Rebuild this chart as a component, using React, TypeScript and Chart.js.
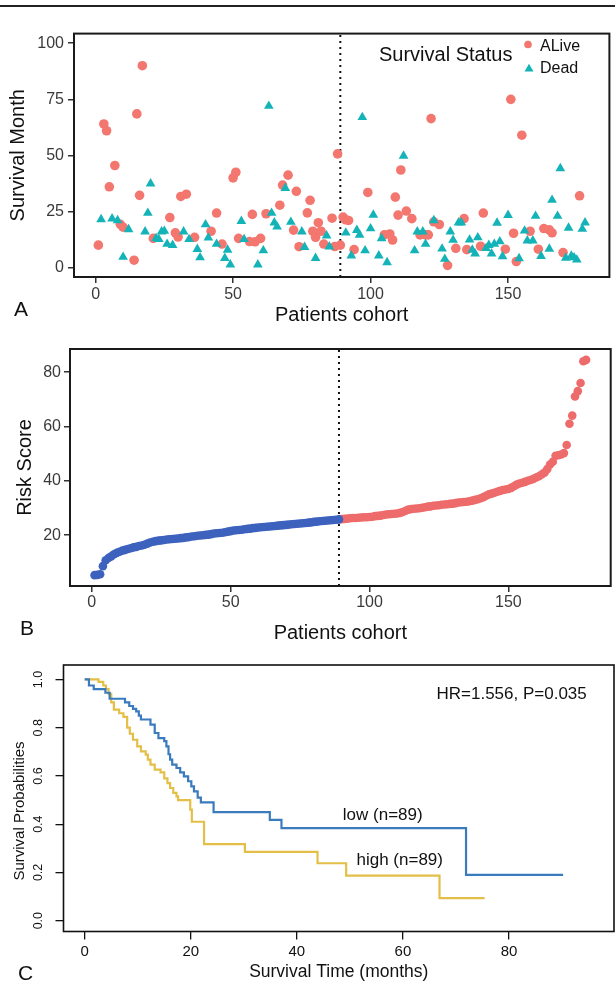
import React, { useEffect, useRef } from 'react';
import { Chart, registerables } from 'chart.js';

Chart.register(...registerables);

const FONT = "'Liberation Sans', Arial, Helvetica, sans-serif";
Chart.defaults.font.family = FONT;

// ---------- Panel A: survival status per patient ----------
const ALIVE_PATIENT = [1, 3, 4, 5, 7, 9, 10, 14, 15, 16, 17, 21, 27, 29, 30, 31, 33, 36, 42, 44, 46, 50, 51, 52, 56, 57, 58, 60, 62, 67, 68, 70, 72, 73, 74, 77, 78, 79, 80, 81, 82, 83, 86, 87, 88, 89, 90, 91, 92, 94, 99, 105, 107, 108, 109, 110, 111, 113, 115, 118, 120, 121, 122, 123, 125, 128, 131, 134, 135, 140, 141, 149, 151, 152, 153, 155, 158, 161, 163, 165, 166, 170, 176];
const ALIVE_MONTH = [10, 64, 61, 36, 45.5, 19.3, 18, 3.3, 68.5, 32.2, 90, 13, 22.3, 15.5, 13.6, 31.7, 32.7, 13.5, 16.2, 24.3, 10.5, 40, 42.5, 13, 11.6, 23.7, 11.5, 13, 24, 27.8, 36.8, 41.2, 16.7, 34, 9.3, 24.4, 30, 16.2, 13.5, 20, 16.2, 10.5, 22, 9.4, 50.7, 10, 22.5, 21.3, 21, 8, 33.5, 14.6, 15, 12.3, 31.4, 23.4, 43.5, 25.2, 21.8, 14.6, 14.6, 14.6, 66.4, 20.4, 19.2, 1, 8.6, 21.8, 8, 9.5, 24.3, 8.2, 75, 15.3, 2.7, 59, 16.2, 8.2, 17.4, 16.8, 15.5, 6.7, 32];
const DEAD_PATIENT = [2, 6, 8, 10, 12, 18, 19, 20, 22, 23, 24, 25, 26, 28, 32, 34, 37, 38, 40, 41, 44, 47, 48, 49, 53, 54, 59, 61, 63, 64, 65, 66, 69, 71, 75, 76, 80, 84, 85, 91, 93, 95, 96, 97, 98, 100, 101, 103, 104, 106, 112, 116, 117, 119, 120, 123, 126, 127, 129, 130, 132, 133, 136, 137, 138, 139, 142, 143, 144, 145, 146, 147, 148, 150, 154, 156, 157, 159, 160, 162, 165, 166, 168, 169, 171, 172, 173, 174, 175, 177, 178];
const DEAD_MONTH = [21.5, 21.8, 21, 4.7, 17, 16, 24.3, 37.4, 13, 12.6, 16, 16.3, 10.5, 10, 16, 12.6, 8.2, 4.5, 19.2, 13.3, 10.5, 4.2, 7.9, 1.3, 20.7, 12.6, 1.3, 7.6, 72, 24.3, 20, 18.2, 35.4, 20.3, 16, 9.1, 4.2, 14.2, 9.3, 15.5, 5.3, 16.7, 14.6, 67, 7.6, 17.4, 23.5, 5.3, 13, 2.3, 49.8, 7.6, 16, 16, 10.5, 21, 8.4, 3.8, 16, 12.3, 20, 20, 12.4, 7.9, 6.2, 13.4, 8.6, 10, 6.2, 10.5, 19.9, 11.6, 5, 23.4, 4.1, 16.4, 12, 12, 23, 5.1, 8.3, 30.1, 23, 44.2, 4.3, 17.7, 5.2, 4.5, 3.5, 17.2, 20];
const A_Y_TICKS = [0, 25, 50, 75, 100];
const COHORT_TICKS = [0, 50, 100, 150];
const CUTOFF = 89;
const COHORT_MIN = -7.85;
const COHORT_MAX = 186.85;
const A_Y_MIN = -4.2;
const A_Y_MAX = 104.3;

// ---------- Panel B: sorted risk scores ----------
const RISK_SCORE = [
  5.3, 5.4, 5.6, 8.6, 10.8, 11.6, 12.2, 13.0, 13.5, 13.9,
  14.3, 14.6, 14.9, 15.2, 15.5, 15.7, 16.0, 16.2, 16.5, 16.9,
  17.3, 17.6, 17.8, 18.0, 18.1, 18.2, 18.4, 18.5, 18.6, 18.7,
  18.8, 18.9, 19.0, 19.2, 19.3, 19.5, 19.6, 19.8, 19.9, 20.0,
  20.1, 20.2, 20.4, 20.6, 20.7, 20.8, 20.9, 21.1, 21.3, 21.5,
  21.7, 21.8, 21.9, 22.0, 22.2, 22.3, 22.4, 22.6, 22.7, 22.8,
  22.9, 23.0, 23.1, 23.2, 23.3, 23.4, 23.5, 23.6, 23.7, 23.8,
  23.9, 24.0, 24.1, 24.2, 24.3, 24.4, 24.5, 24.6, 24.7, 24.9,
  25.0, 25.1, 25.2, 25.3, 25.4, 25.5, 25.6, 25.7, 25.8,
  25.9, 26.0, 26.1, 26.2, 26.3, 26.3, 26.4, 26.5, 26.6, 26.6,
  26.7, 26.8, 27.0, 27.1, 27.2, 27.4, 27.6, 27.7, 27.8, 27.9,
  28.0, 28.2, 28.5, 29.0, 29.4, 29.6, 29.7, 29.8, 29.9, 30.1,
  30.3, 30.5, 30.6, 30.8, 30.9, 31.0, 31.2, 31.3, 31.4, 31.5,
  31.6, 31.8, 32.0, 32.1, 32.2, 32.3, 32.5, 32.7, 33.0, 33.2,
  33.6, 34.0, 34.5, 35.0, 35.3, 35.6, 36.0, 36.3, 36.6, 36.8,
  37.0, 37.4, 38.0, 38.6, 39.0, 39.3, 39.6, 40.0, 40.3, 40.7,
  41.2, 41.7, 42.3, 43.0, 44.3, 46.0, 47.0, 49.2, 49.4, 49.7,
  50.2, 53.2, 61.0, 64.0, 71.0, 73.0, 76.0, 84.0, 84.5,
];
const B_Y_TICKS = [20, 40, 60, 80];
const B_Y_MIN = 1.3;
const B_Y_MAX = 88.5;

// ---------- Panel C: Kaplan-Meier ----------
const LOW_TIME = [0, 0.8, 1.7, 3.9, 4.7, 7.6, 8.4, 9.1, 9.7, 10.2, 10.6, 12.4, 13.2, 13.9, 15.0, 15.4, 15.8, 16.1, 16.5, 17.3, 18.0, 18.7, 19.5, 20.1, 20.6, 21.3, 21.9, 24.3, 34.9, 37.1, 71.9, 90.2];
const LOW_SURV = [1.0, 0.975, 0.96, 0.945, 0.92, 0.905, 0.89, 0.878, 0.868, 0.85, 0.834, 0.813, 0.778, 0.757, 0.744, 0.723, 0.69, 0.668, 0.647, 0.633, 0.615, 0.598, 0.578, 0.557, 0.536, 0.51, 0.49, 0.45, 0.418, 0.384, 0.19, 0.19];
const HIGH_TIME = [0, 2.6, 3.5, 4.0, 4.5, 5.0, 5.5, 6.5, 7.3, 8.0, 8.5, 9.1, 9.9, 10.6, 11.5, 11.9, 12.4, 13.2, 14.3, 15.0, 15.6, 16.1, 16.7, 17.3, 17.6, 19.9, 20.2, 22.5, 30.2, 43.9, 49.3, 66.9, 75.4];
const HIGH_SURV = [1.0, 0.99, 0.975, 0.96, 0.94, 0.905, 0.875, 0.86, 0.845, 0.8, 0.775, 0.75, 0.723, 0.702, 0.688, 0.668, 0.647, 0.626, 0.615, 0.59, 0.57, 0.55, 0.53, 0.515, 0.5, 0.46, 0.41, 0.317, 0.285, 0.238, 0.187, 0.093, 0.093];
const C_X_TICKS = [0, 20, 40, 60, 80];
const C_Y_TICKS = [0, 0.2, 0.4, 0.6, 0.8, 1.0];
const C_X_MIN = -4;
const C_X_MAX = 99.8;
const C_Y_MIN = -0.045;
const C_Y_MAX = 1.06;
const HR_TEXT = 'HR=1.556, P=0.035';
const LOW_LABEL = 'low (n=89)';
const HIGH_LABEL = 'high (n=89)';

// ---------- colours ----------
const COLOR_ALIVE = '#F3766F';
const COLOR_DEAD = '#14B3B8';
const COLOR_LOW_RISK = '#3D62BE';
const COLOR_HIGH_RISK = '#EE6B6B';
const COLOR_KM_LOW = '#3A7BBE';
const COLOR_KM_HIGH = '#E4BF47';

const fixedTicks = (values: number[]) => (scale: any) => {
  scale.ticks = values.map((v) => ({ value: v }));
};

const framePlugin = (lw: number, color: string) => ({
  id: 'frame',
  afterDatasetsDraw(chart: any) {
    const { ctx, chartArea: a } = chart;
    ctx.save();
    ctx.strokeStyle = color;
    ctx.lineWidth = lw;
    ctx.strokeRect(a.left, a.top, a.right - a.left, a.bottom - a.top);
    ctx.restore();
  },
});

function ggScales(p: any) {
  const grid = { display: true, drawOnChartArea: false, drawTicks: true, tickLength: 6, color: '#333', lineWidth: 1.5 };
  return {
    x: {
      type: 'linear',
      min: p.xMin,
      max: p.xMax,
      afterBuildTicks: fixedTicks(p.xTicks),
      afterFit: (s: any) => { s.height = p.xHeight; },
      grid,
      border: { display: false },
      ticks: { color: '#3a3a3a', font: { size: 16 }, padding: p.xTickPad, maxRotation: 0, autoSkip: false },
      title: { display: true, text: p.xTitle, color: '#111', font: { size: 20 }, padding: { top: 0, bottom: p.xTitlePad } },
    },
    y: {
      type: 'linear',
      min: p.yMin,
      max: p.yMax,
      afterBuildTicks: fixedTicks(p.yTicks),
      afterFit: (s: any) => { s.width = p.yWidth; },
      grid,
      border: { display: false },
      ticks: { color: '#3a3a3a', font: { size: 16 }, padding: p.yTickPad, autoSkip: false },
      title: { display: true, text: p.yTitle, color: '#111', font: { size: 20 }, padding: { top: p.yTitlePad, bottom: 0 } },
    },
  };
}

const cutoffLine = (yMin: number, yMax: number) => ({
  type: 'line',
  label: 'cutoff',
  data: [{ x: CUTOFF, y: yMin }, { x: CUTOFF, y: yMax }],
  borderColor: '#111',
  borderWidth: 2,
  borderDash: [2, 4],
  pointRadius: 0,
  showLine: true,
  order: 10,
});

const legendA = {
  id: 'legendA',
  afterDraw(chart: any) {
    const { ctx } = chart;
    ctx.save();
    ctx.textBaseline = 'middle';
    ctx.textAlign = 'left';
    ctx.fillStyle = '#111';
    ctx.font = `20px ${FONT}`;
    ctx.fillText('Survival Status', 379, 35);
    ctx.fillStyle = COLOR_ALIVE;
    ctx.beginPath();
    ctx.arc(528, 24.5, 3.8, 0, Math.PI * 2);
    ctx.fill();
    ctx.fillStyle = COLOR_DEAD;
    ctx.beginPath();
    ctx.moveTo(529, 43.8);
    ctx.lineTo(533.5, 51.5);
    ctx.lineTo(524.5, 51.5);
    ctx.closePath();
    ctx.fill();
    ctx.fillStyle = '#111';
    ctx.font = `16px ${FONT}`;
    ctx.fillText('ALive', 540, 26.5);
    ctx.fillText('Dead', 540, 48.5);
    ctx.restore();
  },
};

function buildA() {
  return {
    type: 'scatter',
    data: {
      datasets: [
        {
          label: 'Dead',
          data: DEAD_PATIENT.map((x, i) => ({ x, y: DEAD_MONTH[i] })),
          pointStyle: 'triangle',
          pointRadius: 5.6,
          backgroundColor: COLOR_DEAD,
          borderWidth: 0,
          order: 1,
        },
        {
          label: 'ALive',
          data: ALIVE_PATIENT.map((x, i) => ({ x, y: ALIVE_MONTH[i] })),
          pointStyle: 'circle',
          pointRadius: 4.8,
          backgroundColor: COLOR_ALIVE,
          borderWidth: 0,
          order: 2,
        },
        cutoffLine(A_Y_MIN, A_Y_MAX),
      ],
    },
    options: {
      animation: false,
      responsive: false,
      devicePixelRatio: 1,
      layout: { padding: { top: 10, right: 2, left: 0, bottom: 0 } },
      plugins: { legend: { display: false }, tooltip: { enabled: false } },
      scales: ggScales({
        xMin: COHORT_MIN, xMax: COHORT_MAX, xTicks: COHORT_TICKS, xHeight: 63, xTickPad: 2, xTitle: 'Patients cohort', xTitlePad: 13,
        yMin: A_Y_MIN, yMax: A_Y_MAX, yTicks: A_Y_TICKS, yWidth: 74, yTickPad: 4, yTitle: 'Survival Month', yTitlePad: 6,
      }),
    },
    plugins: [framePlugin(2, '#1a1a1a'), legendA],
  };
}

function buildB() {
  const pts = RISK_SCORE.map((y, i) => ({ x: i + 1, y }));
  return {
    type: 'scatter',
    data: {
      datasets: [
        { label: 'low', data: pts.slice(0, CUTOFF), pointRadius: 4.3, backgroundColor: COLOR_LOW_RISK, borderWidth: 0, order: 1 },
        { label: 'high', data: pts.slice(CUTOFF), pointRadius: 4.3, backgroundColor: COLOR_HIGH_RISK, borderWidth: 0, order: 2 },
        cutoffLine(B_Y_MIN, B_Y_MAX),
      ],
    },
    options: {
      animation: false,
      responsive: false,
      devicePixelRatio: 1,
      layout: { padding: { top: 19, right: 1, left: 0, bottom: 0 } },
      plugins: { legend: { display: false }, tooltip: { enabled: false } },
      scales: ggScales({
        xMin: COHORT_MIN, xMax: COHORT_MAX, xTicks: COHORT_TICKS, xHeight: 64, xTickPad: 1, xTitle: 'Patients cohort', xTitlePad: 5,
        yMin: B_Y_MIN, yMax: B_Y_MAX, yTicks: B_Y_TICKS, yWidth: 70, yTickPad: 3, yTitle: 'Risk Score', yTitlePad: 13.5,
      }),
    },
    plugins: [framePlugin(2, '#1a1a1a')],
  };
}

const kmTexts = {
  id: 'kmTexts',
  afterDraw(chart: any) {
    const { ctx } = chart;
    const x = chart.scales.x;
    const y = chart.scales.y;
    ctx.save();
    ctx.fillStyle = '#111';
    ctx.textAlign = 'center';
    ctx.textBaseline = 'middle';
    ctx.font = `12.5px ${FONT}`;
    C_Y_TICKS.forEach((v) => {
      ctx.save();
      ctx.translate(39, y.getPixelForValue(v));
      ctx.rotate(-Math.PI / 2);
      ctx.fillText(v.toFixed(1), 0, 0);
      ctx.restore();
    });
    ctx.font = `15px ${FONT}`;
    ctx.save();
    ctx.translate(20, 161);
    ctx.rotate(-Math.PI / 2);
    ctx.fillText('Survival Probabilities', 0, 0);
    ctx.restore();
    ctx.font = `17px ${FONT}`;
    ctx.fillText(HR_TEXT, x.getPixelForValue(80.5), y.getPixelForValue(0.9375));
    ctx.fillText(LOW_LABEL, x.getPixelForValue(56.2), y.getPixelForValue(0.4375));
    ctx.fillText(HIGH_LABEL, x.getPixelForValue(59.4), y.getPixelForValue(0.25));
    ctx.restore();
  },
};

function buildC() {
  const grid = { display: true, drawOnChartArea: false, drawTicks: true, tickLength: 8, color: '#111', lineWidth: 1.3 };
  return {
    type: 'line',
    data: {
      datasets: [
        {
          label: 'low',
          data: LOW_TIME.map((t, i) => ({ x: t, y: LOW_SURV[i] })),
          borderColor: COLOR_KM_LOW,
          borderWidth: 2.2,
          stepped: 'before',
          pointRadius: 0,
          fill: false,
        },
        {
          label: 'high',
          data: HIGH_TIME.map((t, i) => ({ x: t, y: HIGH_SURV[i] })),
          borderColor: COLOR_KM_HIGH,
          borderWidth: 2.2,
          stepped: 'before',
          pointRadius: 0,
          fill: false,
        },
      ],
    },
    options: {
      animation: false,
      responsive: false,
      devicePixelRatio: 1,
      layout: { padding: { top: 15, right: 1, left: 0, bottom: 0 } },
      plugins: { legend: { display: false }, tooltip: { enabled: false } },
      scales: {
        x: {
          type: 'linear',
          min: C_X_MIN,
          max: C_X_MAX,
          afterBuildTicks: fixedTicks(C_X_TICKS),
          afterFit: (s: any) => { s.height = 52.5; },
          grid,
          border: { display: false },
          ticks: { color: '#111', font: { size: 15 }, padding: 3, maxRotation: 0, autoSkip: false },
          title: { display: true, text: 'Survival Time (months)', color: '#111', font: { size: 17.5 }, padding: { top: 0, bottom: 1 } },
        },
        y: {
          type: 'linear',
          min: C_Y_MIN,
          max: C_Y_MAX,
          afterBuildTicks: fixedTicks(C_Y_TICKS),
          afterFit: (s: any) => { s.width = 63.5; },
          grid,
          border: { display: false },
          ticks: { display: false },
        },
      },
    },
    plugins: [framePlugin(1.6, '#111'), kmTexts],
  };
}

function ChartCanvas({ top, height, build }: { top: number; height: number; build: () => any }) {
  const ref = useRef<HTMLCanvasElement | null>(null);
  useEffect(() => {
    const chart = new Chart(ref.current!.getContext('2d')!, build());
    return () => chart.destroy();
  }, []);
  return (
    <canvas
      ref={ref}
      width={615}
      height={height}
      style={{ position: 'absolute', left: 0, top, width: 615, height, display: 'block' }}
    />
  );
}

const labelStyle = (left: number, top: number): React.CSSProperties => ({
  position: 'absolute',
  left,
  top,
  fontFamily: FONT,
  fontSize: 21,
  lineHeight: '21px',
  color: '#111',
});

export default function App() {
  return (
    <div style={{ position: 'absolute', left: 0, top: 0, width: 615, height: 984, background: '#fff', overflow: 'hidden' }}>
      <div style={{ position: 'absolute', left: 0, top: 5, width: 615, height: 2, background: '#222' }} />
      <ChartCanvas top={20} height={320} build={buildA} />
      <ChartCanvas top={330} height={320} build={buildB} />
      <ChartCanvas top={650} height={334} build={buildC} />
      <div style={labelStyle(14, 298)}>A</div>
      <div style={labelStyle(20, 617)}>B</div>
      <div style={labelStyle(18, 962)}>C</div>
    </div>
  );
}
